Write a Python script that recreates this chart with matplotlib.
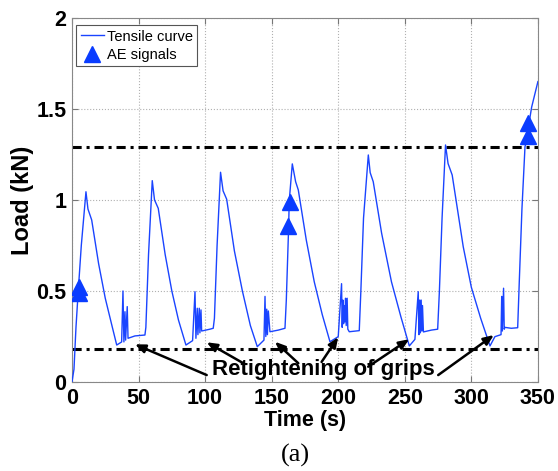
import matplotlib
matplotlib.use("Agg")
import matplotlib.pyplot as plt

# Tensile curve (time in s, load in kN)
time_s = [0, 1.5, 3, 4.7, 7, 10.5, 12, 14.8, 20, 25, 30, 33.6, 37.3, 38.3, 39, 39.8, 40.3, 41.5, 42.1, 47.3, 54.8,
          55.5, 57.5, 60.3, 62, 64.8, 70, 75, 80, 85.6, 90.6, 92.4, 93.1, 94.1, 94.6, 95.6, 96.1, 96.9, 97.4, 103.6, 106.1,
          107, 109, 111.6, 113.5, 116.2, 122, 128, 134, 139.2, 144.2, 145, 145.6, 146.3, 146.8, 147.5, 148.7, 155, 160,
          161, 162.7, 163.2, 165.5, 168, 170, 176, 182, 188, 193.8, 200, 202.5, 203, 203.5, 204, 204.5, 205, 205.5, 206,
          206.7, 207.2, 208.3, 215.8,
          217, 219, 222.6, 224, 226.3, 232.6, 240, 247, 253.4, 257.6, 260.1, 260.6, 261.2, 261.7, 262.3, 262.8, 263.3,
          264, 270, 274.7,
          276, 278, 280.6, 282.5, 285.6, 293.9, 300, 307, 314, 317.7, 322.3, 322.8, 323.3, 324.2, 324.7, 325.2, 330, 334.8,
          336, 338, 340.3, 342.5, 343.5, 345.3, 350]
load_kn = [0, 0.07, 0.3, 0.5, 0.75, 1.045, 0.95, 0.89, 0.65, 0.46, 0.31, 0.203, 0.22, 0.50, 0.22, 0.386, 0.23, 0.414, 0.24, 0.253, 0.258,
           0.3, 0.7, 1.106, 1.0, 0.954, 0.7, 0.5, 0.34, 0.203, 0.227, 0.496, 0.24, 0.405, 0.26, 0.405, 0.27, 0.396, 0.28, 0.29, 0.295,
           0.35, 0.75, 1.152, 1.05, 1.004, 0.72, 0.5, 0.31, 0.194, 0.23, 0.47, 0.25, 0.40, 0.26, 0.39, 0.276, 0.285, 0.295,
           0.45, 0.84, 0.995, 1.198, 1.1, 1.055, 0.78, 0.55, 0.37, 0.221, 0.249, 0.54, 0.3, 0.45, 0.32, 0.42, 0.33, 0.46, 0.31,
           0.46, 0.29, 0.276, 0.282,
           0.5, 0.9, 1.247, 1.15, 1.10, 0.817, 0.55, 0.36, 0.198, 0.234, 0.496, 0.26, 0.45, 0.27, 0.45, 0.28, 0.42,
           0.275, 0.285, 0.29,
           0.5, 0.9, 1.302, 1.2, 1.137, 0.743, 0.52, 0.35, 0.198, 0.249, 0.26, 0.47, 0.28, 0.515, 0.29, 0.3, 0.295, 0.298,
           0.55, 0.95, 1.293, 1.35, 1.43, 1.51, 1.65]

# AE signals
ae_time = [5.0, 5.3, 162.6, 163.4, 342.2, 342.9]
ae_load = [0.49, 0.52, 0.857, 0.99, 1.35, 1.425]

# horizontal reference lines
upper_level = 1.29
lower_level = 0.18

# retightening arrows: heads on the curve, tails at the label
arrow_heads = [(47.3, 0.207), (101.2, 0.218), (152.5, 0.221), (200.0, 0.246), (253.3, 0.235), (316.9, 0.258)]
arrow_tails = [(101.2, 0.038), (128.7, 0.103), (170.0, 0.103), (187.5, 0.11), (222.5, 0.084), (275.1, 0.038)]

blue = '#1a44ff'
bold_font = 'Liberation Sans'

fig = plt.figure(figsize=(5.58, 4.71), dpi=100)
ax = fig.add_axes([0.129, 0.189, 0.835, 0.773])

ax.plot(time_s, load_kn, color=blue, lw=1.0, label='Tensile curve', zorder=3)
ax.plot(ae_time, ae_load, '^', color='#0a3cff', markersize=11, ls='none', label='AE signals', zorder=4)

ax.axhline(upper_level, color='black', lw=2.2, ls=(0, (3, 1.6, 1, 1.6)), zorder=2)
ax.axhline(lower_level, color='black', lw=2.2, ls=(0, (3, 1.6, 1, 1.6)), zorder=2)

for head, tail in zip(arrow_heads, arrow_tails):
    ax.annotate('', xy=head, xytext=tail, annotation_clip=False,
                arrowprops=dict(arrowstyle='-|>,head_length=0.6,head_width=0.25', color='black', lw=1.8,
                                shrinkA=0, shrinkB=0))
ax.text(189, 0.066, 'Retightening of grips', fontsize=16, fontweight='bold', family=bold_font,
        ha='center', va='center', zorder=5)

ax.set_xlim(0, 350)
ax.set_ylim(0, 2)
ax.set_xticks([0, 50, 100, 150, 200, 250, 300, 350])
ax.set_yticks([0, 0.5, 1, 1.5, 2])
ax.set_yticklabels(['0', '0.5', '1', '1.5', '2'])
ax.grid(True, color='#b0b0b0', ls=':', lw=0.8)
ax.tick_params(direction='in', top=True, right=True, length=4, color='#777777', pad=4)
for lab in ax.get_xticklabels() + ax.get_yticklabels():
    lab.set_fontsize(15.5)
    lab.set_fontweight('bold')
    lab.set_family(bold_font)
for sp in ax.spines.values():
    sp.set_color('#888888')

ax.set_xlabel('Time (s)', fontsize=15.5, fontweight='bold', family=bold_font, labelpad=1)
ax.set_ylabel('Load (kN)', fontsize=17, fontweight='bold', family=bold_font, labelpad=2)

leg = ax.legend(loc='upper left', bbox_to_anchor=(0.003, 0.988), handlelength=1.6,
                handletextpad=0.2, borderpad=0.3, labelspacing=0.3, borderaxespad=0.2, fancybox=False,
                framealpha=1, prop={'family': bold_font, 'size': 10.5})
leg.get_frame().set_edgecolor('#555555')
leg.get_frame().set_linewidth(0.8)

fig.text(0.53, 0.033, '(a)', fontsize=19, family='Liberation Serif', ha='center', va='center')

fig.savefig('out.png', dpi=100)
